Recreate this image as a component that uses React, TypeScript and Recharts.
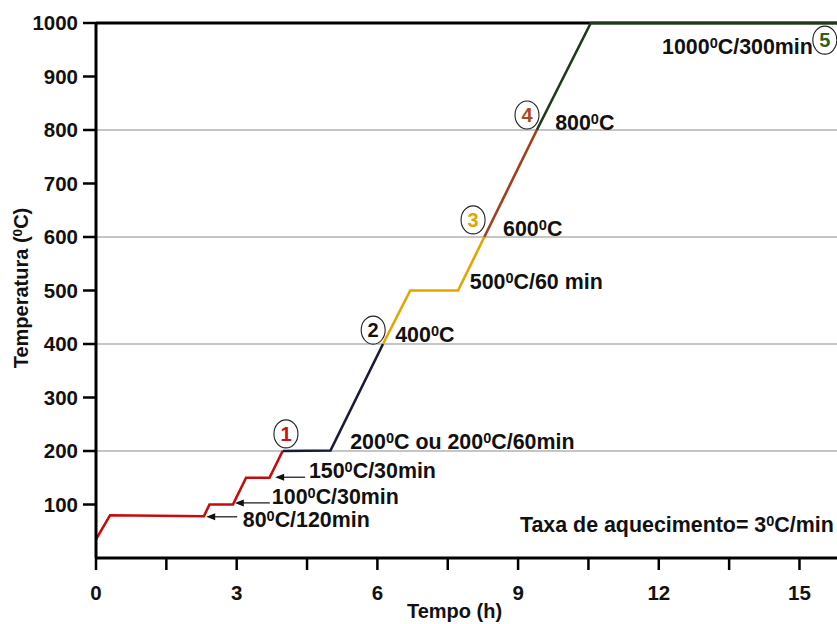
import { LineChart, Line, XAxis, YAxis, ReferenceLine, ReferenceDot } from "recharts";

const FONT = '"Liberation Sans", Arial, sans-serif';

// heating programme, time in hours / temperature in °C, one array pair per stage
const stage1Time = [0, 0.3, 2.3, 2.42, 2.92, 3.2, 3.7, 3.98];
const stage1Temp = [35, 80, 78, 100, 100, 150, 150, 200];
const stage2Time = [3.98, 5.0, 6.12];
const stage2Temp = [200, 201, 400];
const stage3Time = [6.12, 6.7, 7.72, 8.28];
const stage3Temp = [400, 500, 500, 600];
const stage4Time = [8.28, 9.4];
const stage4Temp = [600, 800];
const stage5Time = [9.4, 10.55, 15.8];
const stage5Temp = [800, 1000, 1000];

const xTicks = [0, 1.5, 3, 4.5, 6, 7.5, 9, 10.5, 12, 13.5, 15];
const yTicks = [100, 200, 300, 400, 500, 600, 700, 800, 900, 1000];
const gridTemps = [200, 400, 600, 800];

const stageColors = ["#c80a0a", "#161b36", "#e6a400", "#a3401c", "#1d3b1b"];

// step markers (circled numbers)
const stepLabels = ["1", "2", "3", "4", "5"];
const stepTime = [4.05, 5.91, 8.04, 9.19, 15.54];
const stepTemp = [232, 426, 632, 828, 968];
const stepColors = ["#cc1111", "#111111", "#e6a400", "#b0461c", "#2f5f1f"];

// text notes, anchored at the left end of the baseline
const noteText = [
  "1000⁰C/300min",
  "800⁰C",
  "600⁰C",
  "500⁰C/60 min",
  "400⁰C",
  "200⁰C ou 200⁰C/60min",
  "150⁰C/30min",
  "100⁰C/30min",
  "80⁰C/120min",
  "Taxa de aquecimento= 3⁰C/min",
];
const noteTime = [12.07, 9.79, 8.68, 7.97, 6.38, 5.42, 4.54, 3.75, 3.13, 9.04];
const noteTemp = [942, 800, 602, 503, 404, 204, 150, 101, 58, 49];

// small arrows pointing at the hold steps (arrow tip position)
const arrowTime = [3.82, 2.96, 2.35];
const arrowTemp = [151, 103, 77];
const arrowLength = [30, 35, 31];

const zip = (t: number[], v: number[]) => t.map((x, i) => ({ t: x, temp: v[i] }));
const stages = [
  zip(stage1Time, stage1Temp),
  zip(stage2Time, stage2Temp),
  zip(stage3Time, stage3Temp),
  zip(stage4Time, stage4Temp),
  zip(stage5Time, stage5Temp),
];

// renders "⁰" as a raised small zero
function supParts(text: string, size: number) {
  const parts = text.split("⁰");
  const out: any[] = [];
  parts.forEach((p, i) => {
    if (i > 0) {
      out.push(
        <tspan key={"s" + i} dy={-6} fontSize={size * 0.68}>
          0
        </tspan>
      );
    }
    out.push(
      <tspan key={"p" + i} dy={i > 0 ? 6 : 0} fontSize={size}>
        {p}
      </tspan>
    );
  });
  return out;
}

const YLabel = () => (
  <text
    x={28}
    y={288}
    transform="rotate(-90, 28, 288)"
    textAnchor="middle"
    fontFamily={FONT}
    fontWeight="bold"
    fontSize={20}
    fill="#111"
  >
    {supParts("Temperatura (⁰C)", 20)}
  </text>
);

function App() {
  return (
    <div style={{ position: "absolute", left: 0, top: 0, background: "#fff" }}>
      <LineChart width={837} height={624} margin={{ top: 23, right: 0, bottom: 0, left: 0 }}>
        <XAxis
          dataKey="t"
          type="number"
          domain={[0, 15.8]}
          ticks={xTicks}
          allowDataOverflow
          height={66}
          tickSize={12}
          tickMargin={15}
          tickFormatter={(v: number) => (v % 3 === 0 ? String(v) : "")}
          tick={{ fill: "#111", fontSize: 20.5, fontWeight: "bold", fontFamily: FONT }}
          axisLine={{ stroke: "#000", strokeWidth: 3 }}
          tickLine={{ stroke: "#000", strokeWidth: 2.5 }}
          label={{
            value: "Tempo (h)",
            position: "insideBottom",
            offset: 6,
            dx: -12,
            fill: "#111",
            fontSize: 20,
            fontWeight: "bold",
            fontFamily: FONT,
          }}
        />
        <YAxis
          type="number"
          domain={[0, 1000]}
          ticks={yTicks}
          width={96}
          tickSize={13}
          tickMargin={5}
          tick={{ fill: "#111", fontSize: 20.5, fontWeight: "bold", fontFamily: FONT }}
          axisLine={{ stroke: "#000", strokeWidth: 3 }}
          tickLine={{ stroke: "#000", strokeWidth: 2.5 }}
          label={<YLabel />}
        />
        {gridTemps.map((g) => (
          <ReferenceLine key={g} y={g} stroke="#8c8c8c" strokeWidth={1.2} />
        ))}
        <ReferenceLine y={1000} stroke="#000" strokeWidth={3} />
        {stages.map((data, i) => (
          <Line
            key={i}
            data={data}
            dataKey="temp"
            type="linear"
            stroke={stageColors[i]}
            strokeWidth={2.6}
            dot={false}
            isAnimationActive={false}
          />
        ))}
        {arrowTime.map((t, i) => (
          <ReferenceDot
            key={"a" + i}
            x={t}
            y={arrowTemp[i]}
            r={0}
            shape={(p: any) => (
              <g>
                <line x1={p.cx + 6} y1={p.cy} x2={p.cx + arrowLength[i]} y2={p.cy} stroke="#111" strokeWidth={1.2} />
                <polygon
                  points={`${p.cx},${p.cy} ${p.cx + 9},${p.cy - 3.5} ${p.cx + 9},${p.cy + 3.5}`}
                  fill="#111"
                />
              </g>
            )}
          />
        ))}
        {noteText.map((txt, i) => (
          <ReferenceDot
            key={"n" + i}
            x={noteTime[i]}
            y={noteTemp[i]}
            r={0}
            shape={(p: any) => (
              <text
                x={p.cx}
                y={p.cy}
                fontFamily={FONT}
                fontWeight="bold"
                fill="#111"
                textAnchor="start"
              >
                {supParts(txt, 21.4)}
              </text>
            )}
          />
        ))}
        {stepLabels.map((s, i) => (
          <ReferenceDot
            key={"c" + i}
            x={stepTime[i]}
            y={stepTemp[i]}
            r={0}
            shape={(p: any) => (
              <g>
                <ellipse cx={p.cx} cy={p.cy} rx={12} ry={14} fill="#fff" stroke="#222" strokeWidth={1.1} />
                <text
                  x={p.cx}
                  y={p.cy + 7}
                  textAnchor="middle"
                  fontFamily={FONT}
                  fontWeight="bold"
                  fontSize={20}
                  fill={stepColors[i]}
                >
                  {s}
                </text>
              </g>
            )}
          />
        ))}
      </LineChart>
    </div>
  );
}

export default App;
